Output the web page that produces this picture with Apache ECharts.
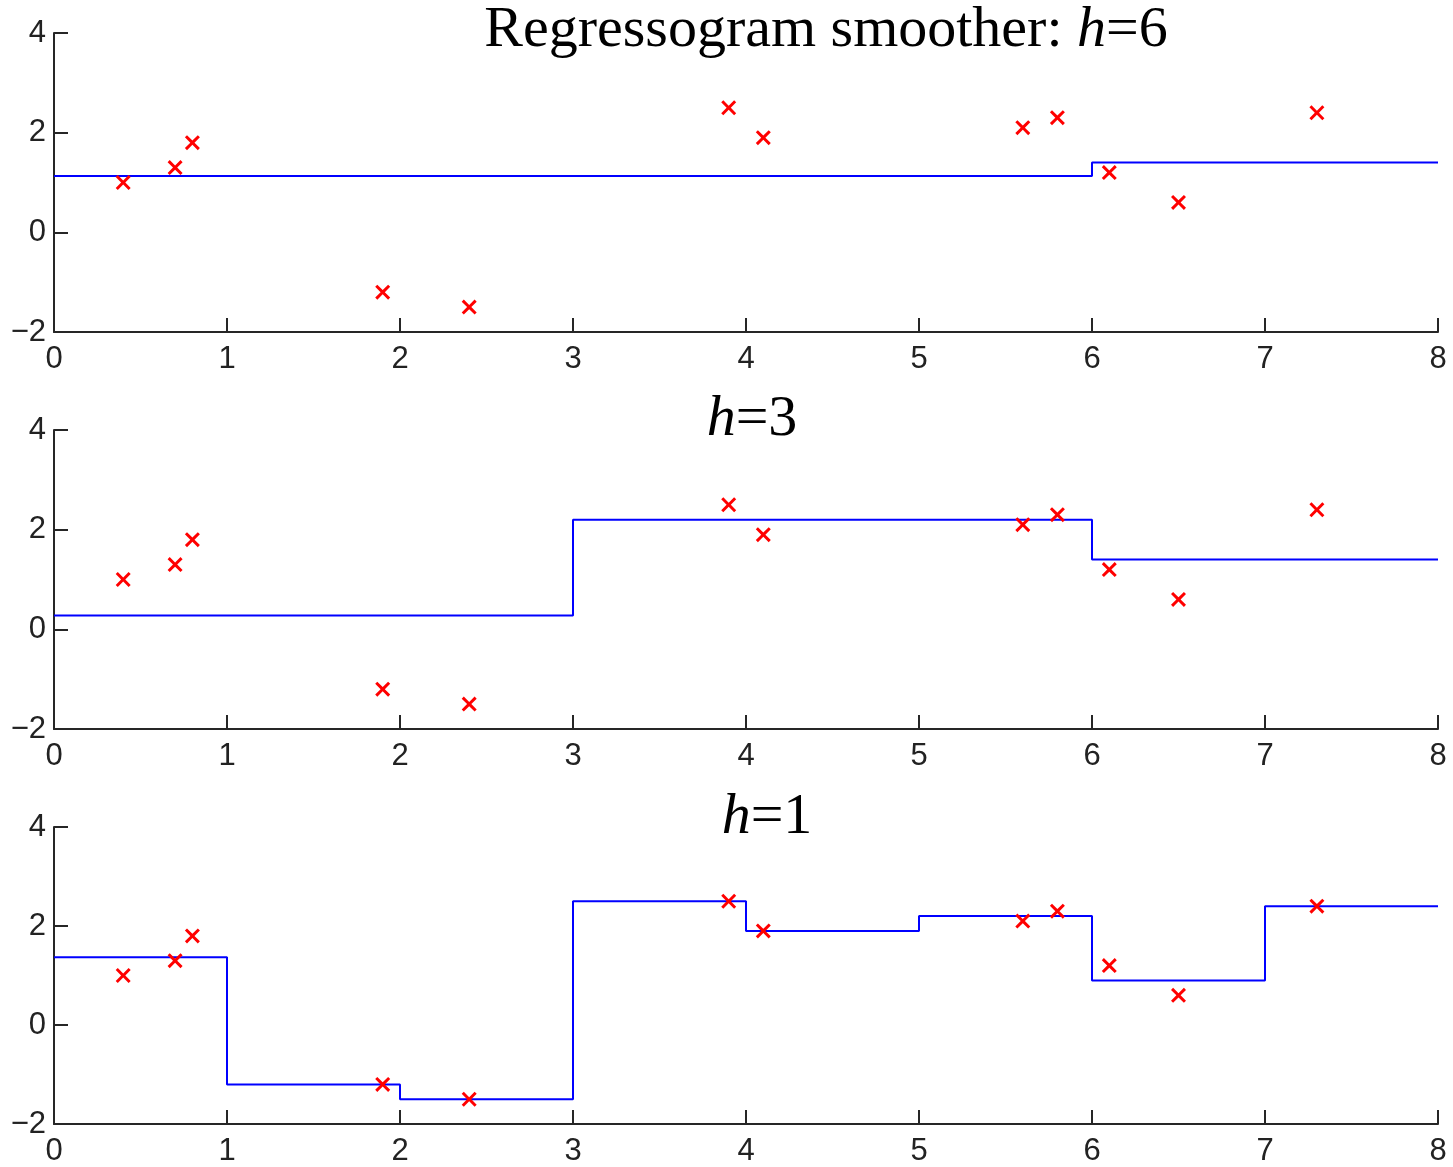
<!DOCTYPE html>
<html>
<head>
<meta charset="utf-8">
<script src="https://cdn.jsdelivr.net/npm/echarts@6/dist/echarts.min.js"></script>
<style>
  html, body { margin: 0; padding: 0; background: #fff; }
  #main { width: 1453px; height: 1167px; }
</style>
</head>
<body>
<div id="main"></div>
<script>
// observed points (same in all three panels)
const xs = [0.4, 0.7, 0.8, 1.9, 2.4, 3.9, 4.1, 5.6, 5.8, 6.1, 6.5, 7.3];
const ys = [1.0, 1.3, 1.8, -1.2, -1.5, 2.5, 1.9, 2.1, 2.3, 1.2, 0.6, 2.4];

// regressogram bins: edges and the mean in each bin
const h6Edges = [0, 6, 8];
const h6Levels = [1.13, 1.4];
const h3Edges = [0, 3, 6, 8];
const h3Levels = [0.28, 2.2, 1.4];
const h1Edges = [0, 1, 2, 3, 4, 5, 6, 7, 8];
const h1Levels = [1.37, -1.2, -1.5, 2.5, 1.9, 2.2, 0.9, 2.4];

const panelTitles = ['Regressogram smoother: ', '', ''];
const panelH = ['6', '3', '1'];

const xTicks = { min: 0, max: 8, interval: 1 };
const yTicks = { min: -2, max: 4, interval: 2 };

const gridTops = [33, 430, 827];
const titlePos = [[826, 2], [752, 391], [767, 789]];

const crossPath = 'path://M0,1.4L1.4,0L5,3.6L8.6,0L10,1.4L6.4,5L10,8.6L8.6,10L5,6.4L1.4,10L0,8.6L3.6,5Z';
const axisColor = '#262626';

function stepData(edges, levels) {
  const out = [];
  levels.forEach((v, i) => {
    out.push([edges[i], v]);
    out.push([edges[i + 1], v]);
  });
  return out;
}

const steps = [stepData(h6Edges, h6Levels), stepData(h3Edges, h3Levels), stepData(h1Edges, h1Levels)];
const pts = xs.map((x, i) => [x, ys[i]]);

const chart = echarts.init(document.getElementById('main'));

const titleFont = { fontFamily: 'Liberation Serif', fontSize: 58, fontWeight: 'normal', color: '#000', lineHeight: 58 };

const option = {
  backgroundColor: '#fff',
  animation: false,
  title: panelH.map((h, i) => ({
    text: '{n|' + panelTitles[i] + '}{i|h}{n|=' + h + '}',
    left: titlePos[i][0],
    top: titlePos[i][1],
    textAlign: 'center',
    padding: 0,
    textStyle: {
      fontWeight: 'normal',
      rich: {
        n: titleFont,
        i: Object.assign({}, titleFont, { fontStyle: 'italic' })
      }
    }
  })),
  grid: gridTops.map(t => ({ left: 54, top: t, width: 1384, height: 299 })),
  xAxis: gridTops.map((t, i) => ({
    gridIndex: i,
    type: 'value',
    min: xTicks.min, max: xTicks.max, interval: xTicks.interval,
    axisLine: { onZero: false, lineStyle: { color: axisColor, width: 2 } },
    axisTick: { inside: true, length: 14, lineStyle: { color: axisColor, width: 2 } },
    axisLabel: { color: '#222', fontFamily: 'Liberation Sans', fontSize: 31, margin: 12 },
    splitLine: { show: false }
  })),
  yAxis: gridTops.map((t, i) => ({
    gridIndex: i,
    type: 'value',
    min: yTicks.min, max: yTicks.max, interval: yTicks.interval,
    axisLine: { show: true, onZero: false, lineStyle: { color: axisColor, width: 2 } },
    axisTick: { show: true, inside: true, length: 14, lineStyle: { color: axisColor, width: 2 } },
    axisLabel: {
      color: '#222', fontFamily: 'Liberation Sans', fontSize: 31, margin: 8,
      formatter: v => String(v).replace('-', '\u2212')
    },
    splitLine: { show: false }
  })),
  series: []
};

steps.forEach((d, i) => {
  option.series.push({
    type: 'line',
    xAxisIndex: i, yAxisIndex: i,
    data: d,
    showSymbol: false,
    lineStyle: { color: '#0000ff', width: 2 },
    z: 2
  });
  option.series.push({
    type: 'scatter',
    xAxisIndex: i, yAxisIndex: i,
    data: pts,
    symbol: crossPath,
    symbolSize: 15,
    itemStyle: { color: '#ff0000', opacity: 1 },
    z: 3
  });
});

chart.setOption(option);
</script>
</body>
</html>
